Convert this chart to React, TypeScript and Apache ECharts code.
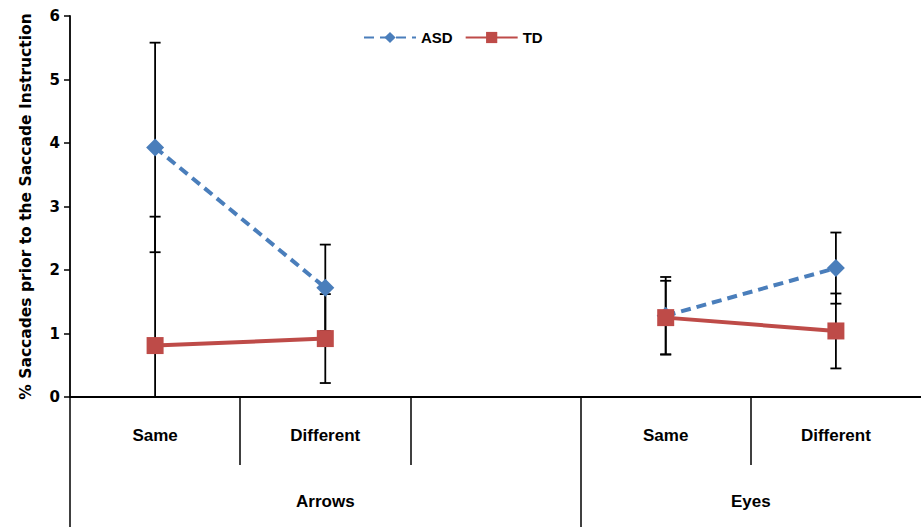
import React, { useEffect, useRef } from "react";
import * as echarts from "echarts";

const categories = ["Same", "Different", "", "Same", "Different"];
const groups = ["Arrows", "Eyes"];
const groupSpans = [3, 2];
const asdValues = [3.93, 1.72, null, 1.28, 2.03];
const asdErrors = [1.65, 0.68, null, 0.61, 0.56];
const tdValues = [0.81, 0.92, null, 1.25, 1.04];
const tdErrors = [2.03, 0.7, null, 0.58, 0.59];
const yTicks = [0, 1, 2, 3, 4, 5, 6];

const ASD_COLOR = "#4a7ebb";
const TD_COLOR = "#be4b48";

function errorData(values: (number | null)[], errors: (number | null)[]) {
  const out: any[] = [];
  values.forEach((v, i) => {
    const e = errors[i];
    if (v == null || e == null) return;
    out.push([i, v - e, v + e]);
  });
  return out;
}

function renderError(params: any, api: any) {
  const x = api.value(0);
  const lo = api.value(1);
  const hi = api.value(2);
  const cs = params.coordSys;
  const bottomLimit = cs.y + cs.height;
  const pTop = api.coord([x, hi]);
  const pLo = api.coord([x, lo]);
  const clipped = pLo[1] > bottomLimit;
  const yLo = clipped ? bottomLimit : pLo[1];
  const cap = 5.5;
  const style = { stroke: "#000", lineWidth: 1.8 };
  const children: any[] = [
    { type: "line", shape: { x1: pTop[0], y1: pTop[1], x2: pTop[0], y2: yLo }, style },
    { type: "line", shape: { x1: pTop[0] - cap, y1: pTop[1], x2: pTop[0] + cap, y2: pTop[1] }, style },
  ];
  if (!clipped) {
    children.push({ type: "line", shape: { x1: pLo[0] - cap, y1: yLo, x2: pLo[0] + cap, y2: yLo }, style });
  }
  return { type: "group", children };
}

export default function App() {
  const ref = useRef<HTMLDivElement>(null);
  useEffect(() => {
    if (!ref.current) return;
    const chart = echarts.init(ref.current, null, { renderer: "svg" });
    const bounds: number[] = [0];
    groupSpans.forEach((s) => bounds.push(bounds[bounds.length - 1] + s));
    const centers = groupSpans.map((s, i) => bounds[i] + s / 2);
    const total = bounds[bounds.length - 1];
    const innerBounds: number[] = [];
    for (let i = 1; i < categories.length; i++) {
      if (!bounds.includes(i)) innerBounds.push(i);
    }

    chart.setOption({
      animation: false,
      backgroundColor: "#fff",
      grid: { left: 70, right: 0, top: 16, bottom: 130, containLabel: false },
      legend: {
        left: 358,
        top: 25,
        itemWidth: 52,
        itemHeight: 14,
        itemGap: 12,
        textStyle: { fontFamily: "Liberation Sans, Arial", fontWeight: "bold", fontSize: 15, color: "#000" },
        data: ["ASD", "TD"],
      },
      xAxis: [
        {
          type: "category",
          data: categories,
          position: "bottom",
          boundaryGap: true,
          axisLine: { show: true, lineStyle: { color: "#000", width: 1.8 } },
          axisTick: { show: false },
          axisLabel: {
            interval: 0,
            margin: 30,
            color: "#000",
            fontFamily: "Liberation Sans, Arial",
            fontWeight: "bold",
            fontSize: 17,
          },
          splitLine: { show: false },
        },
        {
          type: "value",
          position: "bottom",
          min: 0,
          max: total,
          axisLine: { show: false },
          splitLine: { show: false },
          axisTick: {
            show: true,
            customValues: bounds.slice(0, bounds.length - 1),
            length: 130,
            lineStyle: { color: "#000", width: 1.5 },
          },
          axisLabel: {
            show: true,
            customValues: centers,
            margin: 96,
            color: "#000",
            fontFamily: "Liberation Sans, Arial",
            fontWeight: "bold",
            fontSize: 17,
            formatter: (v: number) => {
              const i = centers.findIndex((c) => Math.abs(c - v) < 1e-6);
              return i >= 0 ? groups[i] : "";
            },
          },
        },
        {
          type: "value",
          position: "bottom",
          min: 0,
          max: total,
          axisLine: { show: false },
          splitLine: { show: false },
          axisTick: {
            show: true,
            customValues: innerBounds,
            length: 68,
            lineStyle: { color: "#000", width: 1.5 },
          },
          axisLabel: { show: false },
        },
      ],
      yAxis: {
        type: "value",
        min: yTicks[0],
        max: yTicks[yTicks.length - 1],
        interval: 1,
        name: "% Saccades prior to the Saccade Instruction",
        nameLocation: "middle",
        nameGap: 36,
        nameRotate: 90,
        nameTextStyle: { fontFamily: "DejaVu Sans", fontWeight: "bold", fontSize: 15.5, color: "#000" },
        axisLine: { show: true, lineStyle: { color: "#000", width: 1.8 } },
        axisTick: { show: true, length: 6, lineStyle: { color: "#000", width: 1.5 } },
        axisLabel: { color: "#000", fontFamily: "DejaVu Sans", fontWeight: "bold", fontSize: 15, margin: 10 },
        splitLine: { show: false },
      },
      series: [
        {
          type: "custom",
          name: "errASD",
          xAxisIndex: 0,
          z: 1,
          renderItem: renderError,
          encode: { x: 0, y: [1, 2] },
          data: errorData(asdValues, asdErrors),
          silent: true,
        },
        {
          type: "custom",
          name: "errTD",
          xAxisIndex: 0,
          z: 1,
          renderItem: renderError,
          encode: { x: 0, y: [1, 2] },
          data: errorData(tdValues, tdErrors),
          silent: true,
        },
        {
          type: "line",
          name: "ASD",
          xAxisIndex: 0,
          z: 3,
          data: asdValues,
          connectNulls: false,
          symbol: "diamond",
          symbolSize: 18,
          itemStyle: { color: ASD_COLOR },
          lineStyle: { color: ASD_COLOR, width: 4, type: [10, 6] },
        },
        {
          type: "line",
          name: "TD",
          xAxisIndex: 0,
          z: 4,
          data: tdValues,
          connectNulls: false,
          symbol: "rect",
          symbolSize: 17,
          itemStyle: { color: TD_COLOR },
          lineStyle: { color: TD_COLOR, width: 4 },
        },
      ],
    });
    return () => chart.dispose();
  }, []);
  return (
    <div
      ref={ref}
      style={{ position: "fixed", left: 0, top: 0, width: 921, height: 527, background: "#fff" }}
    />
  );
}
